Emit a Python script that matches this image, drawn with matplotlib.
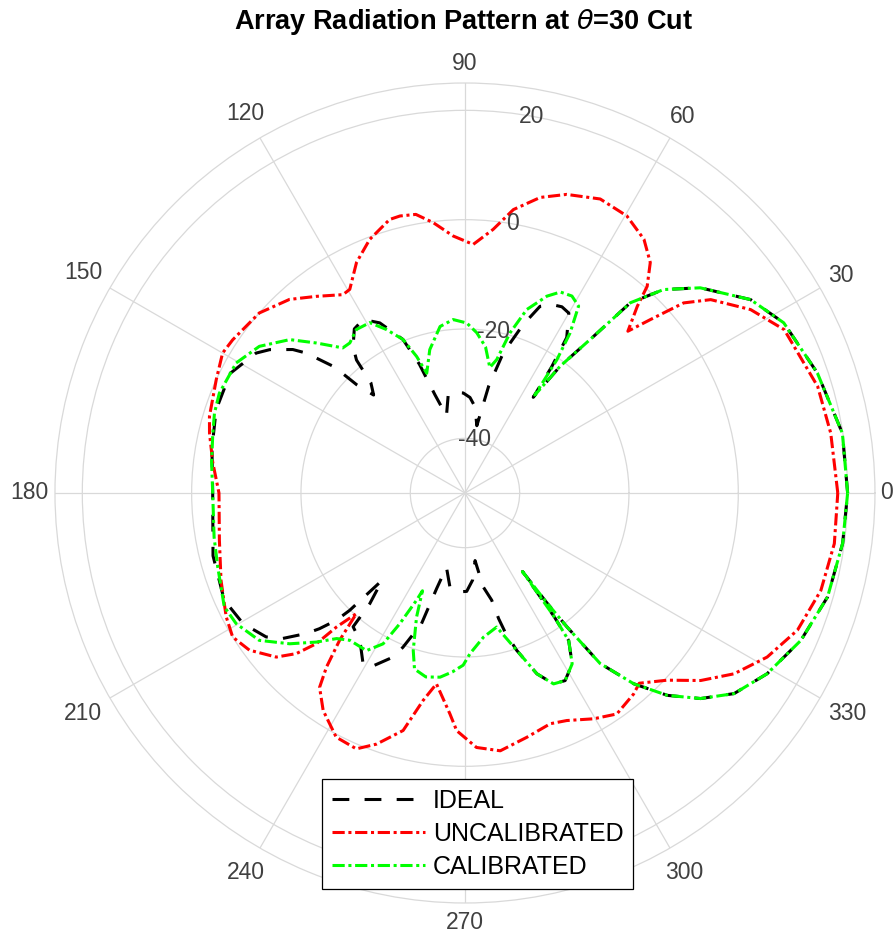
import matplotlib
matplotlib.use('Agg')
import matplotlib.pyplot as plt
import numpy as np

plt.rcParams['font.family'] = ['Liberation Sans', 'DejaVu Sans']

# azimuth cut (deg) and pattern level (dB) for each array state
ideal_az = [0, 9, 18.8, 28.1, 34.1, 41.1, 45.7, 49, 50.6, 53.1,
            54.5, 55.5, 56.8, 60, 62.5, 65, 68.1, 71, 74.7, 77.5,
            80, 83.4, 87, 91, 96, 99.7, 103.5, 107, 109.5, 112,
            116.6, 120.4, 124, 127.4, 129.2, 130.5, 133, 135, 136, 138.6,
            140.2, 143.7, 146.2, 153, 161.5, 170, 180, 194, 204, 210.5,
            215.9, 218.6, 221.5, 223, 224.7, 225.5, 226.5, 229.3, 230.1, 234.5,
            239.2, 241.3, 246.3, 248.1, 251.6, 253.5, 256, 261, 267, 271,
            275, 278.5, 281, 284, 285, 286.1, 288.2, 291.7, 294.9, 298.1,
            302.1, 305.1, 305.8, 306.2, 306.7, 307.3, 308.4, 311.5, 315, 318.9,
            323.3, 329.1, 336.3, 344, 352.4, 360]
ideal_db = [20.0, 19.9, 18.1, 16.1, 13.1, 7.1, 2.0, -3.9, -12.9, -21.0,
            -28.5, -22.0, -16.0, -12.0, -11.6, -12.0, -13.2, -17.5, -23.4, -30.0,
            -37.5, -34.1, -32.5, -31.7, -31.5, -31.8, -35.5, -31.2, -25.0, -19.7,
            -15.2, -13.2, -13.8, -16.3, -18.6, -23.5, -25.5, -22.0, -16.8, -11.3,
            -9.0, -5.7, -4.0, -1.8, -2.0, -3.0, -3.85, -2.5, -1.8, -2.9,
            -5.1, -7.35, -11.2, -13.6, -16.9, -19.9, -28.0, -23.3, -18.1, -16.9,
            -13.6, -13.6, -17.2, -19.6, -24.8, -31.8, -36.0, -32.5, -31.9, -32.0,
            -34.0, -37.5, -32.5, -29.8, -26.2, -23.5, -19.7, -14.4, -11.5, -11.1,
            -13.1, -17.0, -22.0, -32.2, -25.0, -19.2, -10.2, -3.4, 2.35, 7.2,
            11.4, 14.4, 17.1, 19.0, 19.7, 20.0]

uncal_az = [0, 9.3, 16.8, 27.1, 32.7, 38.2, 41, 43.1, 44.8, 47.3,
            48.6, 51.2, 54.8, 59.7, 65.3, 71.2, 75.7, 80.3, 83.9, 88.1,
            92.6, 96.7, 100, 103.2, 105.4, 110.6, 115.2, 119.5, 121.6, 127.1,
            132.2, 138.8, 146.6, 150, 155.5, 163.3, 166.8, 173, 180, 190.9,
            199.7, 207.4, 211.8, 216.1, 221, 223.6, 225.4, 226.2, 228, 229.6,
            231.5, 233.2, 236.9, 242.2, 247, 250.6, 255.4, 258.6, 261.5, 266.1,
            268, 272.6, 277.8, 284.2, 290.3, 294.1, 299.7, 304.5, 310, 312.5,
            317.2, 321.5, 326.1, 331.5, 337.6, 344.7, 352.2, 360]
uncal_db = [18.2, 17.8, 17.4, 15.6, 12.1, 7.2, 3.0, -3.6, -8.0, -3.5,
            0.4, 4.1, 6.8, 8.7, 9.2, 7.7, 5.8, 2.6, -1.5, -4.5,
            -2.95, -0.2, 1.75, 2.05, 1.9, -0.45, -3.4, -7.2, -7.4, -4.9,
            -2.2, 0.0, 0.9, 1.2, 0.0, -1.2, -2.0, -3.5, -5.0, -4.25,
            -2.6, -0.8, 0.0, -1.2, -4.25, -7.4, -11.3, -16.0, -20.3, -14.6,
            -9.3, -5.6, -2.5, 0.5, 0.85, -1.3, -5.1, -11.3, -14.7, -9.5,
            -6.5, -3.4, -2.4, -3.9, -5.0, -4.4, -2.45, -0.95, -2.0, -2.8,
            0.4, 5.1, 9.3, 12.9, 15.8, 17.5, 18.2, 18.2]

cal_az = [0, 9, 18.8, 28.1, 34.1, 41.1, 45.7, 49, 50.6, 53.1,
          54.5, 55.4, 56.7, 58.7, 61.5, 64.6, 67.4, 71.4, 74.3, 76.6,
          78.8, 82, 85.8, 89.4, 93.9, 98.5, 103.8, 107.7, 109.5, 112,
          115.7, 119.2, 123.6, 127.5, 130.1, 134.7, 138.8, 144.5, 150.4, 157.9,
          162.3, 166.7, 173, 180, 190, 196.6, 205.3, 209.7, 215.6, 220.7,
          225.1, 228.6, 232, 238, 241.5, 243.5, 245.7, 246.5, 248.7, 251.8,
          254, 258, 262.3, 266, 269.4, 271.8, 277.3, 283.3, 288.2, 291.7,
          294.9, 298.1, 302.1, 305.1, 305.8, 306.2, 306.7, 307.3, 308.4, 311.5,
          315, 318.9, 323.3, 329.1, 336.3, 344, 352.4, 360]
cal_db = [20.0, 19.9, 18.1, 16.1, 13.1, 7.1, 2.0, -3.9, -12.9, -21.0,
          -28.0, -20.4, -15.0, -10.0, -9.0, -9.3, -11.0, -14.6, -19.6, -24.9,
          -26.6, -23.0, -20.6, -18.9, -18.2, -19.2, -23.0, -27.0, -23.5, -19.7,
          -16.8, -14.3, -14.1, -15.4, -15.3, -11.4, -7.4, -3.8, -1.85, -1.5,
          -1.9, -2.6, -3.3, -3.85, -3.4, -2.8, -1.3, -1.8, -3.7, -7.7,
          -11.5, -14.5, -15.8, -16.0, -18.6, -23.3, -28.5, -30.5, -25.6, -19.7,
          -16.5, -15.6, -16.0, -17.2, -18.5, -20.6, -23.4, -24.8, -19.7, -14.4,
          -11.5, -11.1, -13.1, -17.0, -22.0, -32.2, -25.0, -19.2, -10.2, -3.4,
          2.35, 7.2, 11.4, 14.4, 17.1, 19.0, 19.7, 20.0]

angle_ticks = list(range(0, 360, 30))
mag_ticks = [-40, -20, 0, 20]
r_min, r_max = -50, 25

label_color = '#404040'
grid_color = '#d9d9d9'
fs = 16.5

fig = plt.figure(figsize=(8.94, 9.42), dpi=100)
ax = fig.add_axes([0.0615, 0.0414, 0.9172, 0.8705], projection='polar')
ax.set_ylim(r_min, r_max)
ax.set_xticks(np.deg2rad(angle_ticks))
ax.set_xticklabels([])
ax.set_yticks(mag_ticks)
ax.set_yticklabels([])
ax.tick_params(length=0)
ax.grid(True, color=grid_color, lw=0.9)
ax.spines['polar'].set_color(grid_color)
ax.spines['polar'].set_linewidth(0.9)

style = dict(lw=2.2, dash_joinstyle='round')
l1, = ax.plot(np.deg2rad(ideal_az), ideal_db, color='black',
              ls=(0, (5.5, 5)), label='IDEAL', **style)
l2, = ax.plot(np.deg2rad(uncal_az), uncal_db, color='#ff0000',
              ls=(0, (4, 1.2, 1, 1.2)), label='UNCALIBRATED', **style)
l3, = ax.plot(np.deg2rad(cal_az), cal_db, color='#00ff00',
              ls=(0, (4, 1.2, 1, 1.2)), label='CALIBRATED', **style)

# angle labels just outside the outer ring (offset in pixels)
px_per_db = 410 / (r_max - r_min)
for a in angle_ticks:
    s = str(a)
    t = np.deg2rad(a)
    w = 14.5 * len(s)
    rpx = 414 + abs(np.cos(t)) * w / 2 + abs(np.sin(t)) * 16
    ax.text(t, r_min + rpx / px_per_db, s, ha='center', va='center',
            fontsize=fs, color=label_color)

# magnitude labels along the 80 deg spoke
for v in mag_ticks:
    ax.text(np.deg2rad(80), v, str(v), ha='center', va='center',
            fontsize=fs, color=label_color, zorder=5)

fig.text(0.5185, 0.9766, r'Array Radiation Pattern at $\theta$=30 Cut',
         ha='center', va='center', fontsize=19.5, fontweight='bold')

leg = fig.legend(handles=[l1, l2, l3], loc='upper left',
                 bbox_to_anchor=(0.3602, 0.1730), borderaxespad=0,
                 fontsize=18, handlelength=3.7, handletextpad=0.33,
                 borderpad=0.4, labelspacing=0.36, fancybox=False,
                 framealpha=1, edgecolor='black')
leg.get_frame().set_linewidth(0.9)

fig.savefig('out.png', dpi=100)
